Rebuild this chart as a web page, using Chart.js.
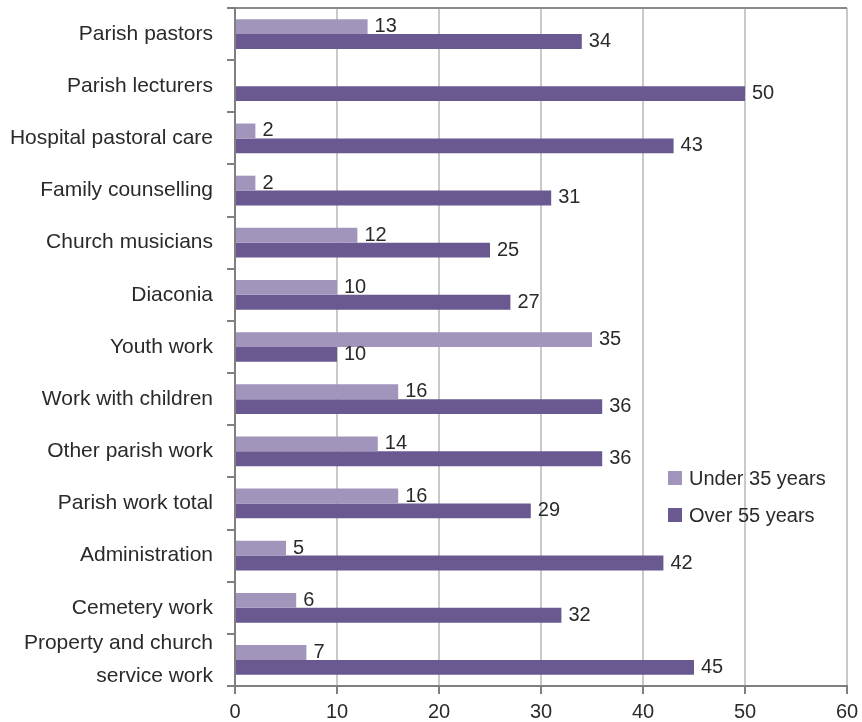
<!DOCTYPE html>
<html>
<head>
<meta charset="utf-8">
<script src="https://cdn.jsdelivr.net/npm/chart.js@4.4.1/dist/chart.umd.min.js"></script>
<style>
  html, body { margin: 0; padding: 0; background: #fff; }
  #wrap { width: 862px; height: 722px; }
</style>
</head>
<body>
<div id="wrap"><canvas id="c" width="862" height="722"></canvas></div>
<script>
// Staff groups (top to bottom)
const categories = [
  'Parish pastors',
  'Parish lecturers',
  'Hospital pastoral care',
  'Family counselling',
  'Church musicians',
  'Diaconia',
  'Youth work',
  'Work with children',
  'Other parish work',
  'Parish work total',
  'Administration',
  'Cemetery work',
  ['Property and church', 'service work']
];

// Share of staff, %
const under35 = [13, null, 2, 2, 12, 10, 35, 16, 14, 16, 5, 6, 7];
const over55  = [34, 50, 43, 31, 25, 27, 10, 36, 36, 29, 42, 32, 45];

const seriesNames = ['Under 35 years', 'Over 55 years'];
const seriesColors = ['#a295bb', '#6a5891'];

const xTicks = [0, 10, 20, 30, 40, 50, 60];

const FONT = '"Liberation Sans", Arial, sans-serif';
const TEXT = '#2a2a2a';

// Value labels at the end of every bar
const valueLabels = {
  id: 'valueLabels',
  afterDatasetsDraw(chart) {
    const ctx = chart.ctx;
    ctx.save();
    ctx.font = '20px ' + FONT;
    ctx.fillStyle = TEXT;
    ctx.textAlign = 'left';
    ctx.textBaseline = 'middle';
    chart.data.datasets.forEach((ds, di) => {
      const meta = chart.getDatasetMeta(di);
      meta.data.forEach((bar, i) => {
        const v = ds.data[i];
        if (v === null || v === undefined) return;
        ctx.fillText(String(v), bar.x + 7, bar.y);
      });
    });
    ctx.restore();
  }
};

// Legend drawn inside the plot area, lower right
const innerLegend = {
  id: 'innerLegend',
  afterDraw(chart) {
    const ctx = chart.ctx;
    const x = 668, y0 = 478, gap = 37, box = 14;
    ctx.save();
    ctx.font = '20px ' + FONT;
    ctx.textBaseline = 'middle';
    ctx.textAlign = 'left';
    chart.data.datasets.forEach((ds, i) => {
      const y = y0 + i * gap;
      ctx.fillStyle = ds.backgroundColor;
      ctx.fillRect(x, y - box / 2, box, box);
      ctx.fillStyle = TEXT;
      ctx.fillText(ds.label, x + box + 7, y + 1);
    });
    ctx.restore();
  }
};

new Chart(document.getElementById('c'), {
  type: 'bar',
  data: {
    labels: categories,
    datasets: [
      { label: seriesNames[0], data: under35, backgroundColor: seriesColors[0] },
      { label: seriesNames[1], data: over55, backgroundColor: seriesColors[1] }
    ]
  },
  options: {
    indexAxis: 'y',
    responsive: false,
    animation: false,
    devicePixelRatio: 1,
    layout: { padding: { top: 8, right: 15, left: 0, bottom: 0 } },
    datasets: { bar: { categoryPercentage: 0.57, barPercentage: 1.0 } },
    plugins: {
      legend: { display: false },
      tooltip: { enabled: false }
    },
    scales: {
      x: {
        type: 'linear',
        min: xTicks[0],
        max: xTicks[xTicks.length - 1],
        afterBuildTicks(scale) { scale.ticks = xTicks.map(v => ({ value: v })); },
        afterFit(scale) { scale.height = 36; scale.paddingLeft = 0; scale.paddingRight = 0; },
        grid: {
          color: '#c9c9c9',
          lineWidth: 2,
          tickColor: '#7f7f7f',
          tickLength: 8,
          drawTicks: true
        },
        border: { color: '#7f7f7f', width: 2 },
        ticks: {
          font: { family: FONT, size: 20 },
          color: TEXT,
          padding: 6
        }
      },
      y: {
        type: 'category',
        afterFit(scale) { scale.width = 235; scale.paddingTop = 0; scale.paddingBottom = 0; },
        grid: {
          offset: true,
          drawOnChartArea: true,
          color: (c) => (c.index === 0 ? '#8a8a8a' : 'rgba(0,0,0,0)'),
          lineWidth: 2,
          tickColor: '#7f7f7f',
          tickLength: 8
        },
        border: { color: '#7f7f7f', width: 2 },
        ticks: {
          autoSkip: false,
          font: { family: FONT, size: 21, lineHeight: 1.55 },
          color: TEXT,
          padding: 14
        }
      }
    }
  },
  plugins: [valueLabels, innerLegend]
});
</script>
</body>
</html>
